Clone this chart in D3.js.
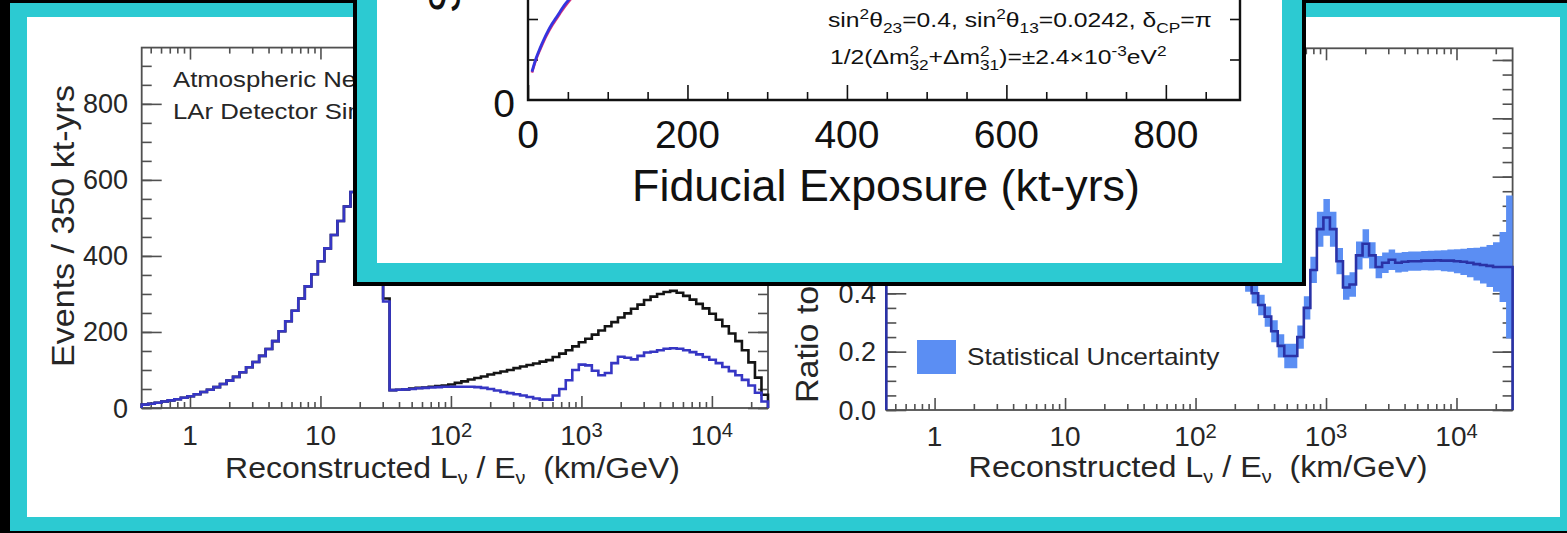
<!DOCTYPE html>
<html>
<head>
<meta charset="utf-8">
<title>Atmospheric neutrino L/E</title>
<script src="https://cdn.jsdelivr.net/npm/d3@7/dist/d3.min.js"></script>
<style>
  html, body { margin: 0; padding: 0; background: #000; overflow: hidden; }
  svg { display: block; }
  text { white-space: pre; }
</style>
</head>
<body>
<svg id="fig" width="1567" height="533"></svg>
<script>
// ---------- binning: log10(L/E [km/GeV]) ----------
const logLowEdge = -0.37;
const logBinWidth = 0.05;
const binCount = 96;

// events per bin for 350 kt-yrs, no oscillation (black)
const unoscEvents = [
  9, 11, 14, 17, 20, 23, 27, 31, 36, 42, 48, 55, 63, 72, 82, 94, 107, 121, 137, 155,
  176, 202, 228, 256, 288, 320, 352, 386, 420, 455, 492, 530, 568, 605, 630, 600, 480, 288,
  47, 48, 49, 51, 53, 54, 56, 58, 59, 62, 66, 70, 75, 79, 83, 88, 92, 96, 100, 105,
  109, 113, 117, 122, 126, 134, 143, 152, 162, 173, 182, 193, 204, 215, 226, 238, 249, 261, 272, 284,
  293, 300, 305, 308, 303, 295, 285, 274, 262, 248, 232, 215, 196, 176, 152, 120, 80, 35
];
// events per bin with oscillations (blue)
const oscEvents = [
  9, 11, 14, 17, 20, 23, 27, 31, 36, 42, 48, 55, 63, 72, 82, 94, 107, 121, 137, 155,
  176, 202, 228, 256, 288, 320, 352, 386, 420, 455, 492, 530, 568, 605, 630, 600, 480, 280,
  47, 48, 49, 50, 52, 53, 54, 55, 56, 56, 56, 56, 56, 55, 53, 50, 46, 42, 39, 36,
  33, 29, 25, 22, 22, 33, 50, 73, 100, 114, 112, 98, 86, 92, 118, 135, 132, 128, 137, 146,
  148, 152, 156, 157, 156, 152, 147, 141, 134, 127, 118, 108, 97, 86, 74, 59, 40, 17
];
// oscillated / unoscillated
const ratioToUnosc = [
  1.0, 1.0, 1.0, 1.0, 1.0, 1.0, 1.0, 1.0, 1.0, 1.0, 1.0, 1.0, 1.0, 1.0, 1.0,
  1.0, 1.0, 1.0, 1.0, 1.0, 1.0, 1.0, 1.0, 1.0, 1.0, 1.0, 1.0, 1.0, 1.0, 1.0,
  1.0, 1.0, 1.0, 1.0, 1.0, 1.0, 1.0, 1.0, 1.0, 1.0, 1.0, 1.0, 1.0, 1.0, 1.0,
  0.98, 0.95, 0.9, 0.85, 0.79, 0.73, 0.67, 0.61, 0.55, 0.49,
  0.44, 0.40, 0.36, 0.32, 0.27, 0.22, 0.185, 0.185, 0.25, 0.35,
  0.48, 0.62, 0.66, 0.62, 0.51, 0.42, 0.43, 0.53, 0.57, 0.53,
  0.49, 0.505, 0.515, 0.505, 0.508, 0.51, 0.51, 0.512, 0.512, 0.513,
  0.512, 0.512, 0.51, 0.508, 0.505, 0.5, 0.497, 0.494, 0.49, 0.49, 0.49
];
// statistical uncertainty on the ratio (half width)
const ratioStatErr = [
  0.02, 0.02, 0.02, 0.02, 0.02, 0.02, 0.02, 0.02, 0.02, 0.02, 0.02, 0.02, 0.02, 0.02, 0.02,
  0.02, 0.02, 0.02, 0.02, 0.02, 0.02, 0.02, 0.02, 0.02, 0.02, 0.02, 0.02, 0.02, 0.02, 0.02,
  0.02, 0.02, 0.02, 0.02, 0.02, 0.02, 0.02, 0.02, 0.02, 0.02, 0.02, 0.02, 0.02, 0.02, 0.02,
  0.035, 0.035, 0.035, 0.035, 0.035, 0.035, 0.035, 0.035, 0.035, 0.035,
  0.035, 0.035, 0.035, 0.035, 0.038, 0.04, 0.042, 0.042, 0.04, 0.04,
  0.045, 0.06, 0.063, 0.06, 0.045, 0.042, 0.042, 0.048, 0.05, 0.045,
  0.038, 0.035, 0.035, 0.034, 0.034, 0.033, 0.033, 0.033, 0.034, 0.034,
  0.036, 0.038, 0.041, 0.045, 0.05, 0.056, 0.063, 0.072, 0.085, 0.12, 0.245
];

const eventTicks = [0, 200, 400, 600, 800];
const ratioTicks = [0, 0.2, 0.4, 0.6, 0.8, 1.0, 1.2];
// labelled ratio ticks below the overlaid plot
const ratioLabelValues = [0, 0.2, 0.4];
const ratioLabelText = ["0.0", "0.2", "0.4"];
const leTickValues = [1, 10, 100, 1000, 10000];
const leTickText = ["1", "10", "10^2", "10^3", "10^4"];

// mass-hierarchy sensitivity vs fiducial exposure
const exposure = [5, 10, 15, 20, 25, 30, 35, 40, 45, 50, 55, 60, 70, 80];
const sensitivityA = [0.14, 0.205, 0.255, 0.30, 0.34, 0.375, 0.405, 0.435, 0.465, 0.49, 0.515, 0.54, 0.585, 0.625];
const sensitivityB = [0.135, 0.198, 0.247, 0.292, 0.331, 0.366, 0.396, 0.426, 0.455, 0.48, 0.505, 0.53, 0.575, 0.615];
const exposureTicks = [0, 200, 400, 600, 800];

// ---------- helpers ----------
const FONT = "'Liberation Sans', Arial, Helvetica, sans-serif";
const CYAN = "#2ccad2";
const AXIS = "#505050";
const TEXT = "#262626";
const svg = d3.select("#fig");

function parseSup(s) {
  const m = s.split("^");
  return m.length > 1 ? [{ t: m[0] }, { t: m[1], sup: true, rise: 0.3, k: 0.72 }] : [{ t: s }];
}

// text built from tspans (sub/superscripts), optionally stretched to a target width
function label(parent, o) {
  const size = o.size;
  const t = parent.append("text")
    .attr("font-family", FONT)
    .attr("font-size", size)
    .attr("fill", o.fill || TEXT)
    .attr("text-anchor", o.anchor || "start");
  const parts = o.parts || [{ t: o.text }];
  let shift = 0, supW = 0;
  parts.forEach(p => {
    const s = t.append("tspan").text(p.t);
    let target = 0, fs = size;
    if (p.sup) { target = -(p.rise ?? 0.42) * size; fs = size * (p.k ?? 0.7); }
    else if (p.sub) { target = (p.drop ?? 0.28) * size; fs = size * (p.k ?? 0.7); }
    s.attr("font-size", fs);
    const dy = target - shift;
    if (dy !== 0) s.attr("dy", dy);
    shift = target;
    if (p.stack) s.attr("dx", -supW);
    if (p.sup) supW = s.node().getComputedTextLength();
  });
  let sx = o.sx || 1;
  if (o.width) sx = o.width / t.node().getBBox().width;
  t.attr("transform",
    `translate(${o.x},${o.y})${o.rotate ? ` rotate(${o.rotate})` : ""} scale(${sx},1)`);
  return sx;
}

function ticks(g, axisFn, scale, values, size, transform, color) {
  g.append("g").attr("transform", transform)
    .call(axisFn(scale).tickValues(values).tickSize(size).tickFormat(""))
    .call(s => s.select(".domain").remove())
    .call(s => s.selectAll("line").attr("stroke", color || AXIS).attr("stroke-width", 1.6));
}

const edges = d3.range(binCount + 1).map(i => Math.pow(10, logLowEdge + logBinWidth * i));

function histPath(x, y, vals) {
  const pts = [[edges[0], 0]];
  vals.forEach((v, i) => { pts.push([edges[i], v]); pts.push([edges[i + 1], v]); });
  pts.push([edges[binCount], 0]);
  return d3.line().x(d => x(d[0])).y(d => y(d[1]))(pts);
}

// ---------- slide frame ----------
svg.append("rect").attr("width", 1567).attr("height", 533).attr("fill", "#000");
svg.append("rect").attr("x", 10).attr("y", 3).attr("width", 1557).attr("height", 528).attr("fill", CYAN);
svg.append("rect").attr("x", 27).attr("y", 17).attr("width", 1533).attr("height", 500).attr("fill", "#fff");

// ---------- left panel: event spectra ----------
const L = { x0: 141.7, x1: 768, y0: 408, y1: 47.6 };
const xL = d3.scaleLog().domain([edges[0], edges[binCount]]).range([L.x0, L.x1]);
const yL = d3.scaleLinear().domain([0, 948]).range([L.y0, L.y1]);
const gL = svg.append("g");

svg.append("clipPath").attr("id", "clipL").append("rect")
  .attr("x", L.x0 - 2).attr("y", L.y1).attr("width", L.x1 - L.x0 + 4).attr("height", L.y0 - L.y1 + 2);

const logAll = xL.ticks();
const logMinor = logAll.filter(v => Math.abs(Math.log10(v) - Math.round(Math.log10(v))) > 1e-6);
const logMajor = logAll.filter(v => Math.abs(Math.log10(v) - Math.round(Math.log10(v))) <= 1e-6);

ticks(gL, d3.axisBottom, xL, logMajor, -12, `translate(0,${L.y0})`);
ticks(gL, d3.axisBottom, xL, logMinor, -6, `translate(0,${L.y0})`);
ticks(gL, d3.axisTop, xL, logMajor, -12, `translate(0,${L.y1})`);
ticks(gL, d3.axisTop, xL, logMinor, -6, `translate(0,${L.y1})`);
const evMinor = d3.range(0, 948, 50);
ticks(gL, d3.axisLeft, yL, eventTicks, -20, `translate(${L.x0},0)`);
ticks(gL, d3.axisLeft, yL, evMinor, -10, `translate(${L.x0},0)`);
ticks(gL, d3.axisRight, yL, eventTicks, -20, `translate(${L.x1},0)`);
ticks(gL, d3.axisRight, yL, evMinor, -10, `translate(${L.x1},0)`);
gL.append("rect").attr("x", L.x0).attr("y", L.y1).attr("width", L.x1 - L.x0).attr("height", L.y0 - L.y1)
  .attr("fill", "none").attr("stroke", AXIS).attr("stroke-width", 1.8);

const histG = gL.append("g").attr("clip-path", "url(#clipL)");
histG.append("path").attr("d", histPath(xL, yL, unoscEvents))
  .attr("fill", "none").attr("stroke", "#141414").attr("stroke-width", 2.6);
histG.append("path").attr("d", histPath(xL, yL, oscEvents))
  .attr("fill", "none").attr("stroke", "#3636c4").attr("stroke-width", 2.6);

eventTicks.forEach(v => label(gL, { x: 128, y: yL(v) + 9.5, text: String(v), size: 27, anchor: "end" }));
leTickValues.forEach((v, i) => label(gL, { x: xL(v), y: 445, parts: parseSup(leTickText[i]), size: 28, anchor: "middle" }));

const leTitle = [
  { t: "Reconstructed L" }, { t: "ν", sub: true, k: 0.62, drop: 0.2 },
  { t: " / E" }, { t: "ν", sub: true, k: 0.62, drop: 0.2 }, { t: "  (km/GeV)" }
];
label(gL, { x: 452.5, y: 478, parts: leTitle, size: 30, anchor: "middle", width: 455 });
const ySx = label(gL, { x: 73.5, y: 226, text: "Events / 350 kt-yrs", size: 31, anchor: "middle", rotate: -90, width: 282 });
label(gL, { x: 173, y: 87, text: "Atmospheric Neutrinos", size: 23, sx: 1.12 });
label(gL, { x: 173, y: 119, text: "LAr Detector Simulation", size: 23, sx: 1.12 });

// ---------- right panel: ratio ----------
const R = { x0: 886.3, x1: 1512.6, y0: 410, y1: 48.3 };
const xR = d3.scaleLog().domain([edges[0], edges[binCount]]).range([R.x0, R.x1]);
const yR = d3.scaleLinear().domain([0, 1.24]).range([R.y0, R.y1]);
const gR = svg.append("g");

svg.append("clipPath").attr("id", "clipR").append("rect")
  .attr("x", R.x0 - 2).attr("y", R.y1).attr("width", R.x1 - R.x0 + 4).attr("height", R.y0 - R.y1 + 2);

ticks(gR, d3.axisBottom, xR, logMajor, -12, `translate(0,${R.y0})`);
ticks(gR, d3.axisBottom, xR, logMinor, -6, `translate(0,${R.y0})`);
ticks(gR, d3.axisTop, xR, logMajor, -12, `translate(0,${R.y1})`);
ticks(gR, d3.axisTop, xR, logMinor, -6, `translate(0,${R.y1})`);
const rMinor = d3.range(0, 1.24, 0.05);
ticks(gR, d3.axisLeft, yR, ratioTicks, -20, `translate(${R.x0},0)`);
ticks(gR, d3.axisLeft, yR, rMinor, -10, `translate(${R.x0},0)`);
ticks(gR, d3.axisRight, yR, ratioTicks, -20, `translate(${R.x1},0)`);
ticks(gR, d3.axisRight, yR, rMinor, -10, `translate(${R.x1},0)`);
gR.append("rect").attr("x", R.x0).attr("y", R.y1).attr("width", R.x1 - R.x0).attr("height", R.y0 - R.y1)
  .attr("fill", "none").attr("stroke", AXIS).attr("stroke-width", 1.8);

const BAND = "#5b8ef3";
const bandPts = [];
ratioToUnosc.forEach((v, i) => {
  const e = ratioStatErr[i];
  bandPts.push({ a: edges[i], lo: v - e, hi: v + e });
  bandPts.push({ a: edges[i + 1], lo: v - e, hi: v + e });
});
const ratioG = gR.append("g").attr("clip-path", "url(#clipR)");
ratioG.append("path")
  .attr("d", d3.area().x(d => xR(d.a)).y0(d => yR(d.lo)).y1(d => yR(d.hi))(bandPts))
  .attr("fill", BAND);
ratioG.append("path").attr("d", histPath(xR, yR, ratioToUnosc))
  .attr("fill", "none").attr("stroke", "#2a32a6").attr("stroke-width", 2.6);

ratioLabelValues.forEach((v, i) => label(gR, { x: 876, y: yR(v) + 9.5, text: ratioLabelText[i], size: 27, anchor: "end" }));
leTickValues.forEach((v, i) => label(gR, { x: xR(v), y: 446, parts: parseSup(leTickText[i]), size: 28, anchor: "middle" }));
label(gR, { x: 1198, y: 477, parts: leTitle, size: 30, anchor: "middle", width: 459 });
label(gR, { x: 818, y: 403, text: "Ratio to No Oscillations", size: 31, anchor: "start", rotate: -90, sx: ySx });

gR.append("rect").attr("x", 917).attr("y", 340).attr("width", 39).attr("height", 34).attr("fill", BAND);
label(gR, { x: 967, y: 365, text: "Statistical Uncertainty", size: 23, width: 253 });

// ---------- overlaid sensitivity plot ----------
const gI = svg.append("g");
gI.append("rect").attr("x", 353).attr("y", -10).attr("width", 953).attr("height", 296).attr("fill", "#000");
gI.append("rect").attr("x", 357).attr("y", -10).attr("width", 945).attr("height", 292).attr("fill", CYAN);
gI.append("rect").attr("x", 377).attr("y", -10).attr("width", 905).attr("height", 273).attr("fill", "#fff");

svg.append("clipPath").attr("id", "clipI").append("rect")
  .attr("x", 377).attr("y", -10).attr("width", 905).attr("height", 273);
const gIc = gI.append("g").attr("clip-path", "url(#clipI)");

const xI = d3.scaleLinear().domain([0, 893]).range([528, 1240]);
const yI = d3.scaleLinear().domain([0, 1]).range([100, -102.5]);
const INK = "#111";

const expMinor = d3.range(50, 893, 50).filter(v => v % 200 !== 0);
ticks(gIc, d3.axisBottom, xI, exposureTicks, -15, "translate(0,100)", INK);
ticks(gIc, d3.axisBottom, xI, expMinor, -8, "translate(0,100)", INK);
ticks(gIc, d3.axisLeft, yI, [0.2, 0.4], -10, "translate(528,0)", INK);
ticks(gIc, d3.axisRight, yI, [0.2, 0.4], -10, "translate(1240,0)", INK);
gIc.append("path").attr("d", "M528,-20V100H1240V-20")
  .attr("fill", "none").attr("stroke", INK).attr("stroke-width", 2.4);

const sensLine = d3.line().x(d => xI(d[0])).y(d => yI(d[1])).curve(d3.curveMonotoneX);
gIc.append("path").attr("d", sensLine(exposure.map((e, i) => [e, sensitivityB[i]])))
  .attr("fill", "none").attr("stroke", "#d8307a").attr("stroke-width", 2.6);
gIc.append("path").attr("d", sensLine(exposure.map((e, i) => [e, sensitivityA[i]])))
  .attr("fill", "none").attr("stroke", "#3434e0").attr("stroke-width", 2.8);

exposureTicks.forEach(v => label(gIc, { x: xI(v), y: 148, text: String(v), size: 39, anchor: "middle", fill: INK }));
label(gIc, { x: 515, y: 117, text: "0", size: 39, anchor: "end", fill: INK });
label(gIc, { x: 886, y: 201, text: "Fiducial Exposure (kt-yrs)", size: 44, anchor: "middle", fill: INK, width: 508 });
label(gIc, { x: 460, y: 13, text: "Sensitivity (σ = √Δχ²)", size: 44, anchor: "start", rotate: -90, fill: INK });

label(gIc, {
  x: 828, y: 27, size: 20, fill: INK, width: 384, parts: [
    { t: "sin" }, { t: "2", sup: true }, { t: "θ" }, { t: "23", sub: true }, { t: "=0.4, sin" },
    { t: "2", sup: true }, { t: "θ" }, { t: "13", sub: true }, { t: "=0.0242, δ" },
    { t: "CP", sub: true }, { t: "=π" }
  ]
});
label(gIc, {
  x: 830, y: 64, size: 20, fill: INK, width: 337, parts: [
    { t: "1/2(Δm" }, { t: "2", sup: true }, { t: "32", sub: true, stack: true }, { t: "+Δm" },
    { t: "2", sup: true }, { t: "31", sub: true, stack: true }, { t: ")=±2.4×10" },
    { t: "-3", sup: true }, { t: "eV" }, { t: "2", sup: true }
  ]
});
</script>
</body>
</html>
